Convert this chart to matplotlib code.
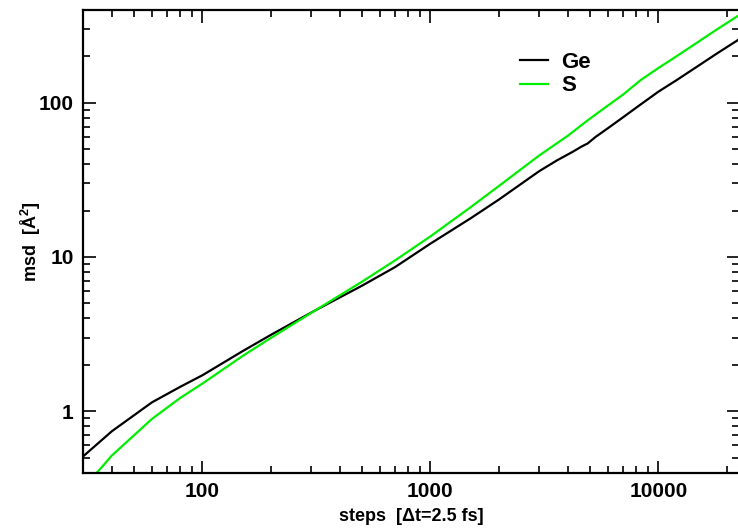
import matplotlib
matplotlib.use('Agg')
import matplotlib.pyplot as plt
from matplotlib.ticker import LogLocator, NullFormatter, FixedLocator, FixedFormatter

plt.rcParams['font.family'] = ['Liberation Sans', 'DejaVu Sans']
plt.rcParams['font.weight'] = 'bold'
plt.rcParams['mathtext.fontset'] = 'custom'
plt.rcParams['mathtext.rm'] = 'Liberation Sans:bold'
plt.rcParams['mathtext.bf'] = 'Liberation Sans:bold'

# Ge msd (black)
steps_ge = [30, 40, 60, 80, 100, 150, 200, 313, 500, 700, 1000, 1500, 2000, 3000,
            3600, 4200, 4600, 4900, 5300, 6000, 7000, 8000, 10000, 12000, 15000, 18000, 22600]
msd_ge = [0.51, 0.74, 1.14, 1.44, 1.71, 2.45, 3.13, 4.51, 6.5, 8.6, 12.2, 17.8, 23.6, 36.0,
          42.4, 48.0, 52.0, 54.5, 60.0, 68.3, 80.5, 93.0, 118, 140, 174, 208, 258]

# S msd (green)
steps_s = [30, 35, 40, 60, 80, 100, 150, 200, 313, 500, 700, 1000, 1500, 2000, 3000,
           4000, 4900, 5600, 7000, 8400, 10000, 12000, 15000, 18000, 22600]
msd_s = [0.33, 0.41, 0.515, 0.89, 1.22, 1.51, 2.28, 2.99, 4.51, 6.9, 9.5, 13.6, 21.0, 28.9, 45.5,
         61, 77, 89, 113, 141, 168, 200, 249, 298, 370]

xticks = [100, 1000, 10000]
xticklabels = ['100', '1000', '10000']
yticks = [1, 10, 100]
yticklabels = ['1', '10', '100']

fig = plt.figure(figsize=(7.38, 5.29), dpi=100)
ax = fig.add_axes([83.3 / 738, 56.5 / 529, (739 - 83.3) / 738, 462.5 / 529])

ax.plot(steps_ge, msd_ge, color='black', lw=1.6, label='Ge')
ax.plot(steps_s, msd_s, color='#00ee00', lw=1.6, label='S')

ax.set_xscale('log')
ax.set_yscale('log')
ax.set_xlim(30, 22600)
ax.set_ylim(0.4, 400)

ax.xaxis.set_major_locator(FixedLocator(xticks))
ax.xaxis.set_major_formatter(FixedFormatter(xticklabels))
ax.yaxis.set_major_locator(FixedLocator(yticks))
ax.yaxis.set_major_formatter(FixedFormatter(yticklabels))
ax.xaxis.set_minor_locator(LogLocator(base=10, subs=range(2, 10), numticks=20))
ax.yaxis.set_minor_locator(LogLocator(base=10, subs=range(2, 10), numticks=20))
ax.xaxis.set_minor_formatter(NullFormatter())
ax.yaxis.set_minor_formatter(NullFormatter())

ax.tick_params(which='both', direction='in', top=True, right=True, width=1.2)
ax.tick_params(which='major', length=9, labelsize=15, pad=7)
ax.tick_params(which='minor', length=5)
for lab in ax.get_xticklabels() + ax.get_yticklabels():
    lab.set_fontweight('bold')

for sp in ax.spines.values():
    sp.set_linewidth(1.6)

ax.set_xlabel('steps  [\u0394t=2.5 fs]', fontsize=13, fontweight='bold', labelpad=5)
ax.set_ylabel(r'msd  [Å$^{2}$]', fontsize=13, fontweight='bold')
ax.yaxis.set_label_coords(-0.062, 0.5)

leg = ax.legend(loc='upper left', bbox_to_anchor=(0.649, 0.933), frameon=False,
                fontsize=16, handlelength=1.25, handletextpad=0.6, labelspacing=0.1,
                borderpad=0)
for t in leg.get_texts():
    t.set_fontweight('bold')

fig.savefig('out.png', dpi=100)
